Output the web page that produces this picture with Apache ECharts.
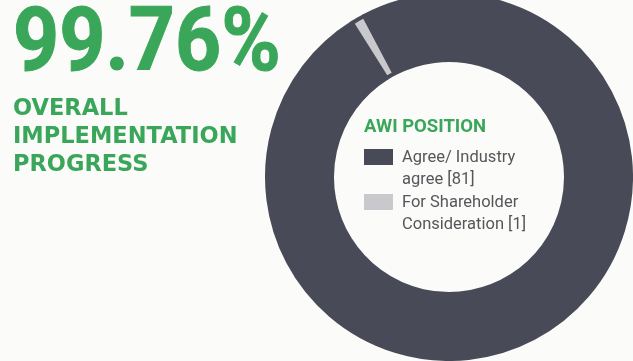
<!DOCTYPE html>
<html>
<head>
<meta charset="utf-8">
<script src="https://cdn.jsdelivr.net/npm/echarts@6/dist/echarts.min.js"></script>
<style>
  html, body { margin: 0; padding: 0; background: #fbfbf9; }
  #chart { width: 633px; height: 361px; }
</style>
</head>
<body>
<div id="chart"></div>
<script>
// Recommendation positions and their counts
const categories = ['Agree/ Industry agree', 'For Shareholder Consideration'];
const counts = [81, 1];
const legendLines = [['Agree/ Industry', 'agree [81]'], ['For Shareholder', 'Consideration [1]']];
const headline = '99.76%';
const headlineCaption = ['OVERALL', 'IMPLEMENTATION', 'PROGRESS'];
const legendTitle = 'AWI POSITION';

const GREEN = '#3aa65a';
const DARK = '#484b57';
const LIGHT = '#c9c9cd';

const chart = echarts.init(document.getElementById('chart'));
chart.setOption({
  backgroundColor: '#fbfbf9',
  animation: false,
  graphic: [{
    // big headline figure, slightly condensed
    type: 'text',
    x: 13, y: 3, scaleX: 0.905, originX: 0,
    silent: true,
    style: {
      text: headline,
      font: 'bold 89px Roboto',
      fill: GREEN,
      stroke: GREEN,
      lineWidth: 1,
      verticalAlign: 'top'
    }
  }],
  title: [
    {
      text: headlineCaption.join('\n'),
      left: 13, top: 95, padding: 0,
      textStyle: { fontFamily: 'DejaVu Sans', fontWeight: 'bold', fontSize: 22.5, lineHeight: 28, color: GREEN }
    },
    {
      text: legendTitle,
      left: 364, top: 118, padding: 0,
      textStyle: { fontFamily: 'Roboto', fontWeight: 'bold', fontSize: 18.5, color: GREEN }
    }
  ],
  legend: {
    orient: 'vertical',
    left: 364, top: 124, padding: 0,
    icon: 'rect', itemWidth: 29, itemHeight: 16, itemGap: -21,
    selectedMode: false,
    data: categories,
    itemStyle: { borderWidth: 0 },
    // a leading blank line keeps the first text line level with the swatch
    formatter: name => '\n' + legendLines[categories.indexOf(name)].map(s => '{t|' + s + '}').join('\n'),
    textStyle: {
      fontFamily: 'Roboto', fontSize: 16.5, lineHeight: 22, color: '#56565b',
      rich: { t: { fontFamily: 'Roboto', fontSize: 16.5, lineHeight: 22, color: '#56565b', padding: [2, 0, 0, 4] } }
    }
  },
  series: [{
    type: 'pie',
    center: [449, 177],
    radius: [117, 182],
    startAngle: 117.8,
    clockwise: true,
    silent: true,
    label: { show: false },
    labelLine: { show: false },
    itemStyle: { borderColor: DARK, borderWidth: 4 },
    data: categories.map((name, i) => ({
      name, value: counts[i],
      itemStyle: { color: i === 0 ? DARK : LIGHT }
    }))
  }]
});
</script>
</body>
</html>
